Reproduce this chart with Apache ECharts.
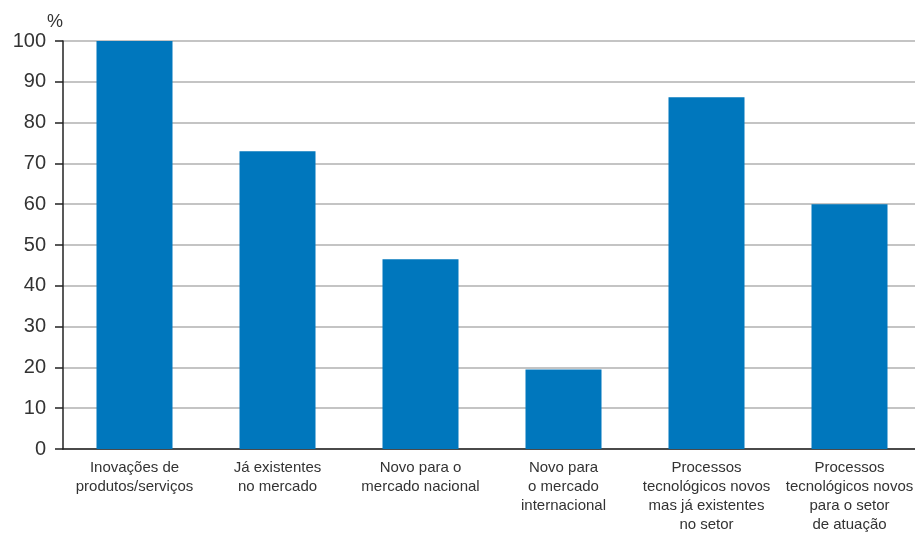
<!DOCTYPE html>
<html><head><meta charset="utf-8">
<script src="https://cdn.jsdelivr.net/npm/echarts@6/dist/echarts.min.js"></script>
<style>html,body{margin:0;padding:0;background:#fff}#c{width:915px;height:536px}</style>
</head><body><div id="c"></div>
<script>
const categories = [
  "Inovações de\nprodutos/serviços",
  "Já existentes\nno mercado",
  "Novo para o\nmercado nacional",
  "Novo para\no mercado\ninternacional",
  "Processos\ntecnológicos novos\nmas já existentes\nno setor",
  "Processos\ntecnológicos novos\npara o setor\nde atuação"
];
const values = [100, 73, 46.5, 19.5, 86.2, 60];
const yTicks = [0, 10, 20, 30, 40, 50, 60, 70, 80, 90, 100];

const chart = echarts.init(document.getElementById('c'), null, {renderer: 'canvas'});
const font = '"Liberation Sans", Arial, sans-serif';
chart.setOption({
  animation: false,
  grid: {left: 63, width: 858, top: 41, height: 408, outerBoundsMode: 'none', containLabel: false},
  xAxis: {
    type: 'category',
    data: categories,
    axisLine: {show: true, lineStyle: {color: '#222', width: 1.5}},
    axisTick: {show: false},
    axisLabel: {interval: 0, color: '#333', fontFamily: font, fontSize: 15, lineHeight: 19, margin: 9, hideOverlap: false}
  },
  yAxis: {
    type: 'value',
    min: yTicks[0], max: yTicks[yTicks.length - 1], interval: 10,
    name: '%', nameLocation: 'end', nameGap: 8,
    nameTextStyle: {color: '#333', fontFamily: font, fontSize: 18, align: 'right'},
    axisLine: {show: true, lineStyle: {color: '#222', width: 1.5}},
    axisTick: {show: true, inside: false, length: 8, lineStyle: {color: '#222', width: 1.5}},
    axisLabel: {color: '#333', fontFamily: font, fontSize: 20, margin: 17},
    splitLine: {show: true, lineStyle: {color: '#b0b0b0', width: 1.5}}
  },
  series: [{
    type: 'bar',
    data: values,
    barWidth: 76,
    itemStyle: {color: '#0077BD'}
  }]
});
</script></body></html>
